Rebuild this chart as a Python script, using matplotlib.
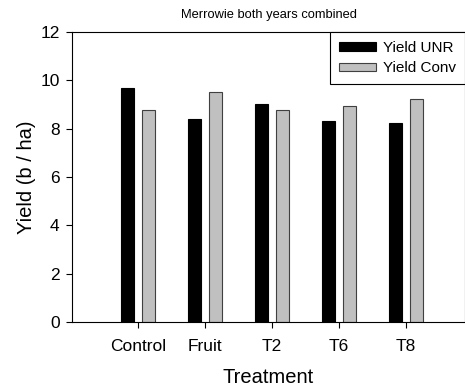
import matplotlib.pyplot as plt
import numpy as np

plt.rcParams['font.family'] = ['Liberation Sans', 'DejaVu Sans']

treatments = ['Control', 'Fruit', 'T2', 'T6', 'T8']
yield_unr = [9.68, 8.40, 9.02, 8.30, 8.23]
yield_conv = [8.77, 9.52, 8.77, 8.92, 9.24]

fig = plt.figure(figsize=(4.65, 3.88), dpi=100)
ax = fig.add_axes([0.155, 0.170, 0.845, 0.7475])

x = np.arange(len(treatments))
w = 0.19
ax.bar(x - 0.155, yield_unr, w, color='black', edgecolor='black', linewidth=0.8, label='Yield UNR')
ax.bar(x + 0.155, yield_conv, w, color='#c0c0c0', edgecolor='#404040', linewidth=0.8, label='Yield Conv')

ax.set_xlim(-0.98, 4.88)
ax.set_ylim(0, 12)
ax.set_yticks(range(0, 13, 2))
ax.set_xticks(x)
ax.set_xticklabels(treatments)
ax.tick_params(direction='out', length=4, width=0.8, labelsize=12.5, pad=5)
ax.tick_params(axis='x', pad=8)
for s in ax.spines.values():
    s.set_linewidth(0.8)

ax.set_xlabel('Treatment', fontsize=14.5, labelpad=10)
ax.set_ylabel('Yield (b / ha)', fontsize=14.5, labelpad=3)
ax.set_title('Merrowie both years combined', fontsize=9.3, pad=10)

leg = ax.legend(loc='upper right', bbox_to_anchor=(1.0, 1.0), borderaxespad=0,
                fontsize=11, fancybox=False, edgecolor='black', framealpha=1,
                handlelength=2.4, handleheight=0.5, handletextpad=0.45,
                labelspacing=0.4, borderpad=0.6)
leg.get_frame().set_linewidth(0.8)

fig.savefig('out.png', dpi=100)
